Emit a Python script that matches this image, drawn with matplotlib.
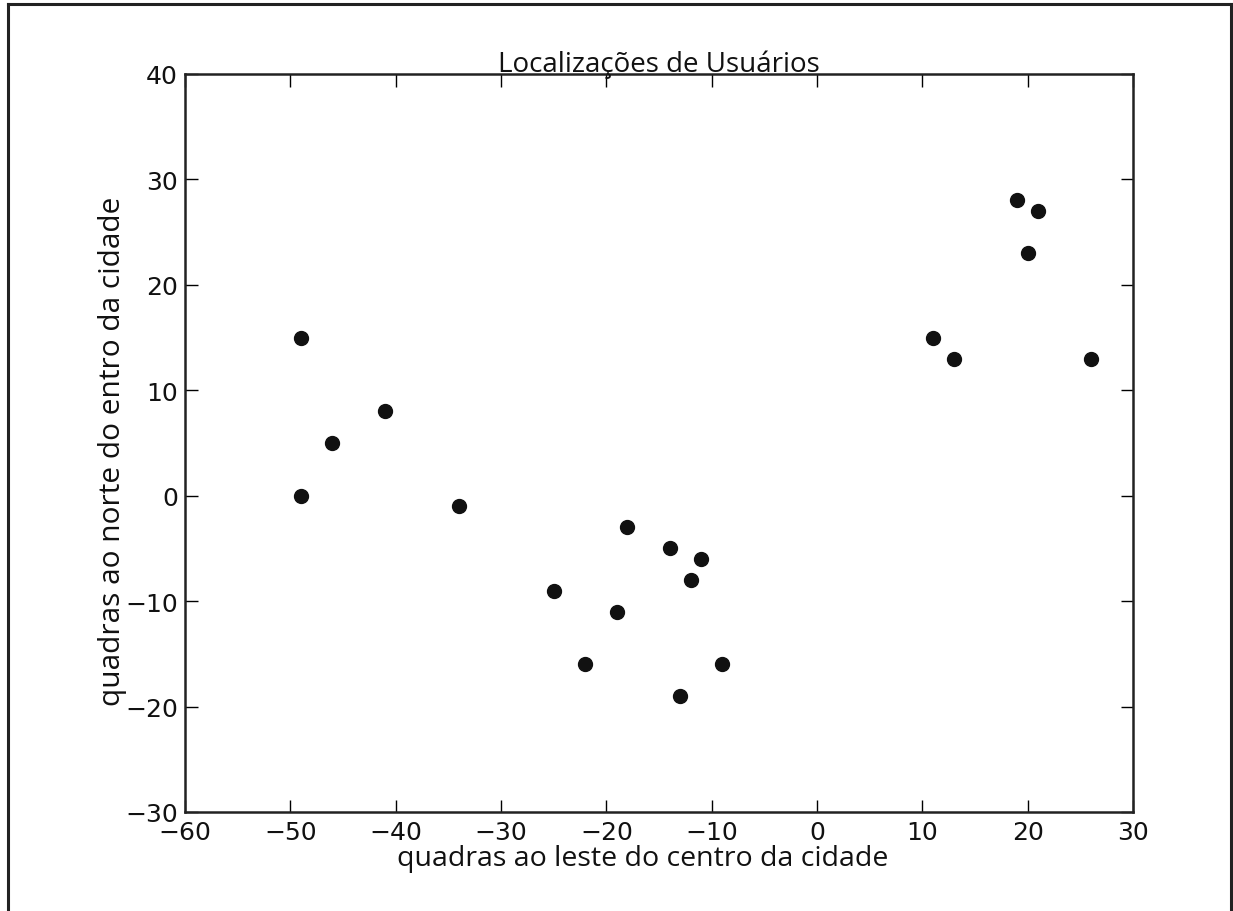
import matplotlib
matplotlib.use("Agg")
import matplotlib.pyplot as plt
from matplotlib.lines import Line2D

# user locations (blocks east / north of downtown)
xs = [-14, 13, 20, -19, -9, 21, -49, 26, -46, -34, 11, -49, -22, 19, -12, -13, -41, -11, -25, -18]
ys = [-5, 13, 23, -11, -16, 27, 15, 13, 5, -1, 15, 0, -16, 28, -8, -19, 8, -6, -9, -3]

fig = plt.figure(figsize=(12.33, 9.12), dpi=100)
ax = fig.add_axes([0.150, 0.1086, 0.769, 0.8092])

ax.scatter(xs, ys, s=100, color="#111111", zorder=3)

ax.set_xlim(-60, 30)
ax.set_ylim(-30, 40)
ax.set_xticks(range(-60, 31, 10))
ax.set_yticks(range(-30, 41, 10))
ax.tick_params(direction="in", length=9, width=1, top=True, right=True,
               labelsize=18, pad=5, labelcolor="#111111")
ax.tick_params(axis="x", pad=6)
for sp in ax.spines.values():
    sp.set_linewidth(1.8)
    sp.set_color("#222222")

lab = dict(family="Open Sans", color="#111111")
ax.set_title("Localizações de Usuários", fontsize=20, pad=2, **lab)
ax.set_xlabel("quadras ao leste do centro da cidade", fontsize=20.5, **lab)
ax.set_ylabel("quadras ao norte do entro da cidade", fontsize=21.5, **lab)
ax.xaxis.set_label_coords(0.483, -0.044)
ax.yaxis.set_label_coords(-0.061, 0.49)

# outer frame of the picture
fig.add_artist(Line2D([8 / 1233, 8 / 1233], [0, 1 - 5 / 912], transform=fig.transFigure, color="#222222", lw=2.2))
fig.add_artist(Line2D([8 / 1233, 1231 / 1233], [1 - 5 / 912, 1 - 5 / 912], transform=fig.transFigure, color="#222222", lw=2.2))
fig.add_artist(Line2D([1231 / 1233, 1231 / 1233], [0, 1 - 5 / 912], transform=fig.transFigure, color="#222222", lw=2.2))

fig.savefig("out.png", dpi=100)
